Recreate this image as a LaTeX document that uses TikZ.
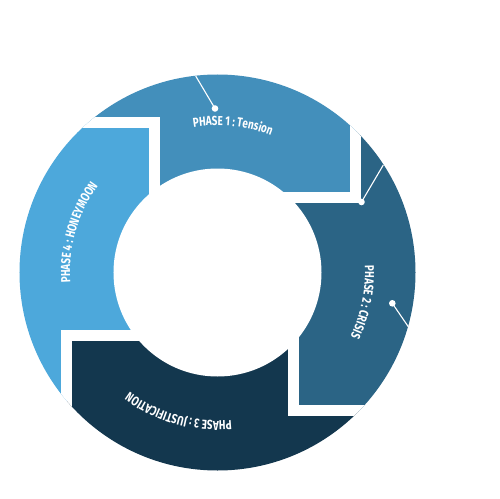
\documentclass[tikz,border=0pt]{standalone}
\usepackage{fontspec}
\newfontfamily\labfam[FakeStretch=0.76]{Fira Sans}
\usetikzlibrary{decorations.text}
\definecolor{segA}{HTML}{438FBB}
\definecolor{segB}{HTML}{2B6485}
\definecolor{segC}{HTML}{13374E}
\definecolor{segD}{HTML}{4DA8DB}
\newcommand{\lab}{\labfam\bfseries\fontsize{13}{15}\selectfont}
\tikzset{
  gapline/.style={white, line width=11pt},
  leader/.style={white, line width=1.1pt},
  leaderdot/.style={white},
  arclabel/.style={decorate, decoration={text along path, text={|\lab|#1}, text align=center, text color=white}}
}
\begin{document}
\begin{tikzpicture}[x=1pt,y=1pt]
\useasboundingbox (-217.5,-225.5) rectangle (282.5,272.5);
\coordinate (ctr) at (0,0);
\begin{scope}
\clip (ctr) circle (198);
% segments
\fill[segA] (-300,150.3) -- (-63,150.3) -- (-63,0) -- (0,0) -- (0,75.3) -- (138.3,75.3) -- (138.3,300) -- (-300,300) -- cycle;
\fill[segB] (138.3,300) -- (138.3,75.3) -- (0,75.3) -- (0,0) -- (75.9,0) -- (75.9,-138) -- (300,-138) -- (300,300) -- cycle;
\fill[segC] (300,-138) -- (75.9,-138) -- (75.9,0) -- (0,0) -- (0,-62.7) -- (-150.7,-62.7) -- (-150.7,-300) -- (300,-300) -- cycle;
\fill[segD] (-150.7,-300) -- (-150.7,-62.7) -- (0,-62.7) -- (0,0) -- (-63,0) -- (-63,150.3) -- (-300,150.3) -- (-300,-300) -- cycle;
% gaps
\draw[gapline] (-300,150.3) -- (-63,150.3) -- (-63,0);
\draw[gapline] (138.3,300) -- (138.3,75.3) -- (0,75.3);
\draw[gapline] (300,-138) -- (75.9,-138) -- (75.9,0);
\draw[gapline] (-150.7,-300) -- (-150.7,-62.7) -- (0,-62.7);
\end{scope}
\fill[white] (ctr) circle (104);
% leaders
\coordinate (d1) at (-2.5,164);
\coordinate (e1) at (-21.8,196.5);
\coordinate (d2) at (144,70.5);
\coordinate (e2) at (165.8,107.5);
\coordinate (d3) at (174.8,-30.8);
\coordinate (e3) at (190.8,-54.2);
\draw[leader] (d1) -- (e1);
\draw[leader] (d2) -- (e2);
\draw[leader] (d3) -- (e3);
\fill[leaderdot] (d1) circle (3.3);
\fill[leaderdot] (d2) circle (3.3);
\fill[leaderdot] (d3) circle (3.3);
% labels
\path[arclabel={PHASE 1 : Tension}] (120:147) arc[start angle=120, end angle=48, radius=147];
\path[arclabel={PHASE 2 : CRISIS}] (25:147.5) arc[start angle=25, end angle=-48, radius=147.5];
\path[arclabel={PHASE 3 : JUSTIFICATION}] (-70:148.5) arc[start angle=-70, end angle=-141, radius=148.5];
\path[arclabel={PHASE 4 : HONEYMOON}] (200:147.5) arc[start angle=200, end angle=128, radius=147.5];
\end{tikzpicture}
\end{document}
